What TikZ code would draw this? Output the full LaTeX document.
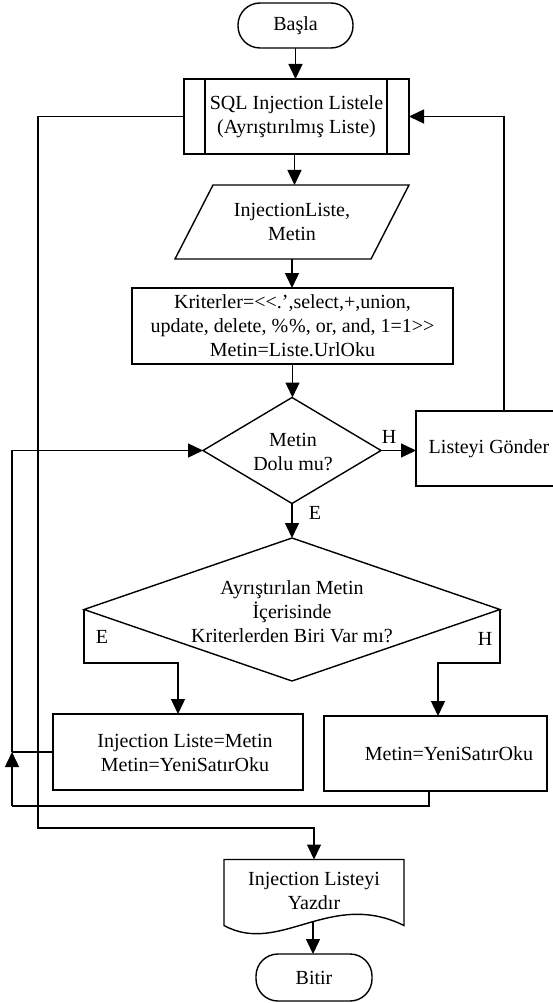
\documentclass[tikz,border=0pt]{standalone}
\usepackage{fontspec}
\setmainfont{Liberation Serif}
\usetikzlibrary{arrows.meta,shapes.geometric,calc}
\begin{document}
\begin{tikzpicture}[x=1pt,y=-1pt,
  font=\fontsize{20}{24}\selectfont,
  line width=1.4pt,
  every node/.style={inner sep=0pt, outer sep=0pt},
  box/.style={draw, rectangle, align=center},
  term/.style={draw, rectangle, rounded corners=22pt, align=center},
  decision/.style={draw, diamond},
  txt/.style={align=center},
  arr/.style={-{Triangle[length=15pt,width=14pt]}}]

\useasboundingbox (0,0) rectangle (553,1003);

% start / end terminals
\node[term, minimum width=115, minimum height=45] (start) at (295.5,25.5) {Başla};
\node[term, minimum width=116, minimum height=47] (end) at (314,977.5) {Bitir};

% predefined process
\node[box, minimum width=225, minimum height=75] (sub) at (296.5,116.5)
  {SQL Injection Listele\\(Ayrıştırılmış Liste)};
\draw ([xshift=21pt]sub.north west) -- ([xshift=21pt]sub.south west)
      ([xshift=-22pt]sub.north east) -- ([xshift=-22pt]sub.south east);

% input (parallelogram)
\node[txt, minimum width=234, minimum height=74] (par) at (292,222) {InjectionListe,\\Metin};
\draw (par.south west) -- ([xshift=38pt]par.north west) -- (par.north east)
      -- ([xshift=-38pt]par.south east) -- cycle;

% initialisation (kerns keep << and >> from turning into guillemets)
\node[box, minimum width=321, minimum height=76] (proc) at (292.5,326)
  {Kriterler=<\kern0pt<.’,select,+,union,\\update, delete, \%\kern1pt\%, or, and, 1=1>\kern0pt>\\Metin=Liste.UrlOku};

% first decision
\node[decision, minimum width=178, minimum height=106] (d1) at (292,450.5) {};
\node[txt] (d1t) at (293,452) {Metin\\Dolu mu?};
\node[box, minimum width=146, minimum height=75] (lg) at (489,448.5) {Listeyi Gönder};

% second decision
\node[decision, minimum width=416, minimum height=143] (d2) at (292,609.5) {};
\node[txt] (d2t) at (292,612) {Ayrıştırılan Metin\\İçerisinde\\Kriterlerden Biri Var mı?};

% branch boxes
\node[box, minimum width=250, minimum height=76] (lb) at (178,752) {};
\node[txt] (lbt) at (185,752.5) {Injection Liste=Metin\\Metin=YeniSatırOku};
\node[box, minimum width=223, minimum height=75] (rb) at (435.5,753.5) {};
\node[txt] (rbt) at (449,754) {Metin=YeniSatırOku};

% output document
\node[minimum width=180, minimum height=66] (doc) at (314,892.5) {};
\draw (doc.south west) -- (doc.north west) -- (doc.north east) -- (doc.south east)
      .. controls +(-74,-36.5) and +(56,30.5) .. (doc.south west) -- cycle;
\node[txt] (doct) at (314,890.5) {Injection Listeyi\\Yazdır};
\coordinate (docb) at (313,922);

% branch labels
\node (h1) at (389,437) {H};
\node (e1) at (315,513) {E};
\node (e2) at (102,637) {E};
\node (h2) at (485,639) {H};

% main flow
\draw[arr] (start.south) -- (start.south |- sub.north);
\draw[arr] ([xshift=-2pt]sub.south) -- ([xshift=-2pt]sub.south |- par.north);
\draw[arr] (par.south) -- (par.south |- proc.north);
\draw[arr] (proc.south) -- (proc.south |- d1.north);
\draw[arr] (d1.east) -- (d1.east -| lg.west);
\draw[arr] (d1.south) -- (d1.south |- d2.north);
\draw[arr] ([xshift=15pt]lg.north) |- (sub.east);
\draw[arr] (d2.west) -- ++(0,53.5) -| (lb.north);
\draw[arr] (d2.east) -- ++(0,53.5) -| ([xshift=2.5pt]rb.north);

% loop back to the first decision
\coordinate (loopA) at (12,806);
\coordinate (loopB) at (12,752);
\draw ([xshift=-6.5pt]rb.south) |- (loopA);
\draw[arr] (loopA) -- (loopB);
\draw[arr] (loopB) |- (d1.west);
\draw (lb.west) -- (loopB);

% exit to the output
\coordinate (retL) at (38,828);
\draw[arr] (sub.west) -| (retL) -| (doc.north);
\draw[arr] (docb) -- (docb |- end.north);
\end{tikzpicture}
\end{document}
